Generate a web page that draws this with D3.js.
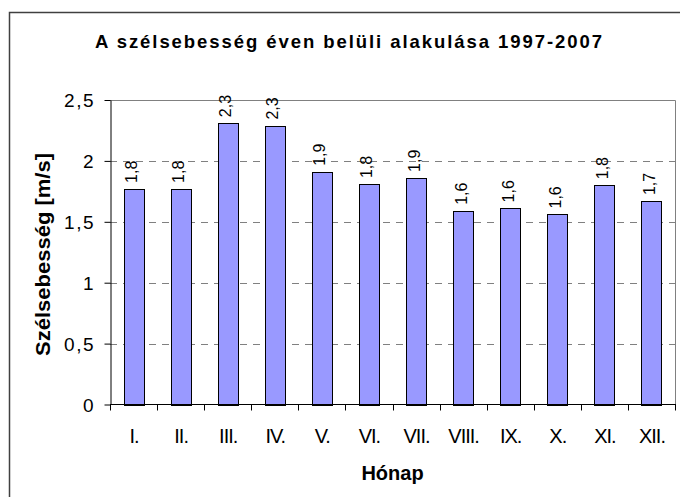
<!DOCTYPE html>
<html>
<head>
<meta charset="utf-8">
<script src="https://cdn.jsdelivr.net/npm/d3@7"></script>
<style>
  body { margin: 0; background: #fff; }
  svg { display: block; font-family: "Liberation Sans", Arial, sans-serif; }
</style>
</head>
<body>
<div id="chart"></div>
<script>
// month categories (roman numerals)
var MONTHS = ["I.", "II.", "III.", "IV.", "V.", "VI.", "VII.", "VIII.", "IX.", "X.", "XI.", "XII."];
// wind speed values [m/s]
var SPEED = [1.77, 1.77, 2.31, 2.29, 1.91, 1.81, 1.86, 1.59, 1.61, 1.56, 1.80, 1.67];
// y axis ticks
var Y_TICKS = [0, 0.5, 1, 1.5, 2, 2.5];

function drawChart() {
    var W = 680, H = 497;
    var plot = { left: 110, right: 675, top: 100, bottom: 404.5 };

    var svg = d3.select("#chart").append("svg")
        .attr("width", W)
        .attr("height", H);

    // outer chart border (runs past the window right and bottom)
    svg.append("rect")
        .attr("x", 9.5).attr("y", 12.5)
        .attr("width", 700).attr("height", 520)
        .attr("fill", "none")
        .attr("stroke", "#404040")
        .attr("stroke-width", 1.5);

    // title
    svg.append("text")
        .attr("x", 95).attr("y", 47.5)
        .attr("font-size", "18.5px")
        .attr("font-weight", "bold")
        .attr("textLength", 507)
        .attr("lengthAdjust", "spacing")
        .text("A szélsebesség éven belüli alakulása 1997-2007");

    var x = d3.scaleBand()
        .domain(MONTHS)
        .range([plot.left, plot.right])
        .paddingInner(0.575)
        .paddingOuter(0.2875);

    var y = d3.scaleLinear()
        .domain([0, 2.5])
        .range([plot.bottom, plot.top]);

    // dashed gridlines
    svg.append("g").selectAll("line")
        .data(Y_TICKS.filter(function (d) { return d > 0 && d < 2.5; }))
        .enter().append("line")
        .attr("x1", plot.left).attr("x2", plot.right)
        .attr("y1", function (d) { return Math.round(y(d)) + 0.5; })
        .attr("y2", function (d) { return Math.round(y(d)) + 0.5; })
        .attr("stroke", "#808080")
        .attr("stroke-dasharray", "7,6");

    // plot frame top + right (gray)
    svg.append("path")
        .attr("d", "M" + plot.left + "," + (plot.top + 0.5) + "H" + (plot.right + 0.5) + "V" + plot.bottom)
        .attr("fill", "none")
        .attr("stroke", "#808080");

    // bars
    svg.append("g").selectAll("rect")
        .data(SPEED)
        .enter().append("rect")
        .attr("x", function (d, i) { return Math.round(x(MONTHS[i])) + 0.5; })
        .attr("y", function (d) { return Math.round(y(d)) + 0.5; })
        .attr("width", Math.round(x.bandwidth()))
        .attr("height", function (d) { return Math.round(plot.bottom) - Math.round(y(d)); })
        .attr("fill", "#9999FF")
        .attr("stroke", "#000")
        .attr("stroke-width", 1);

    // value labels, rotated
    svg.append("g").selectAll("text")
        .data(SPEED)
        .enter().append("text")
        .attr("transform", function (d, i) {
            return "translate(" + (x(MONTHS[i]) + x.bandwidth() / 2 + 3.5) + "," + (y(d) - 6) + ") rotate(-90)";
        })
        .attr("font-size", "16px")
        .text(function (d) { return d3.format(".1f")(d).replace(".", ","); });

    // y axis
    var yAxis = svg.append("g")
        .attr("transform", "translate(" + (plot.left + 0.5) + ",0)")
        .call(d3.axisLeft(y).tickValues(Y_TICKS).tickSize(6).tickSizeOuter(0)
            .tickFormat(function (d) { return String(d).replace(".", ","); }));
    yAxis.select(".domain").attr("stroke", "#000");
    yAxis.selectAll(".tick line").attr("stroke", "#000");
    yAxis.selectAll(".tick text")
        .attr("x", -15.5)
        .attr("dy", "0.36em")
        .attr("font-size", "19px")
        .attr("font-family", "Liberation Sans, Arial, sans-serif")
        .style("letter-spacing", "1.5px")
        .attr("fill", "#000");

    // x axis
    var xAxis = svg.append("g")
        .attr("transform", "translate(0," + (plot.bottom) + ")");
    xAxis.append("line")
        .attr("x1", plot.left).attr("x2", plot.right + 1)
        .attr("stroke", "#000");
    xAxis.selectAll(".tk")
        .data(d3.range(MONTHS.length + 1))
        .enter().append("line")
        .attr("class", "tk")
        .attr("x1", function (i) { return Math.round(plot.left + i * x.step()) + 0.5; })
        .attr("x2", function (i) { return Math.round(plot.left + i * x.step()) + 0.5; })
        .attr("y1", 0).attr("y2", 6)
        .attr("stroke", "#000");
    xAxis.selectAll(".lbl")
        .data(MONTHS)
        .enter().append("text")
        .attr("class", "lbl")
        .attr("x", function (d) { return x(d) + x.bandwidth() / 2 + 0.5; })
        .attr("y", 38)
        .attr("text-anchor", "middle")
        .attr("font-size", "20px")
        .style("letter-spacing", "-1px")
        .text(function (d) { return d; });

    // axis titles
    svg.append("text")
        .attr("x", (plot.left + plot.right) / 2)
        .attr("y", 480)
        .attr("text-anchor", "middle")
        .attr("font-size", "20px")
        .attr("font-weight", "bold")
        .text("Hónap");

    svg.append("text")
        .attr("transform", "translate(50,254.5) rotate(-90)")
        .attr("text-anchor", "middle")
        .attr("font-size", "20px")
        .attr("font-weight", "bold")
        .attr("textLength", 203)
        .attr("lengthAdjust", "spacingAndGlyphs")
        .text("Szélsebesség [m/s]");
}

drawChart();
</script>
</body>
</html>
